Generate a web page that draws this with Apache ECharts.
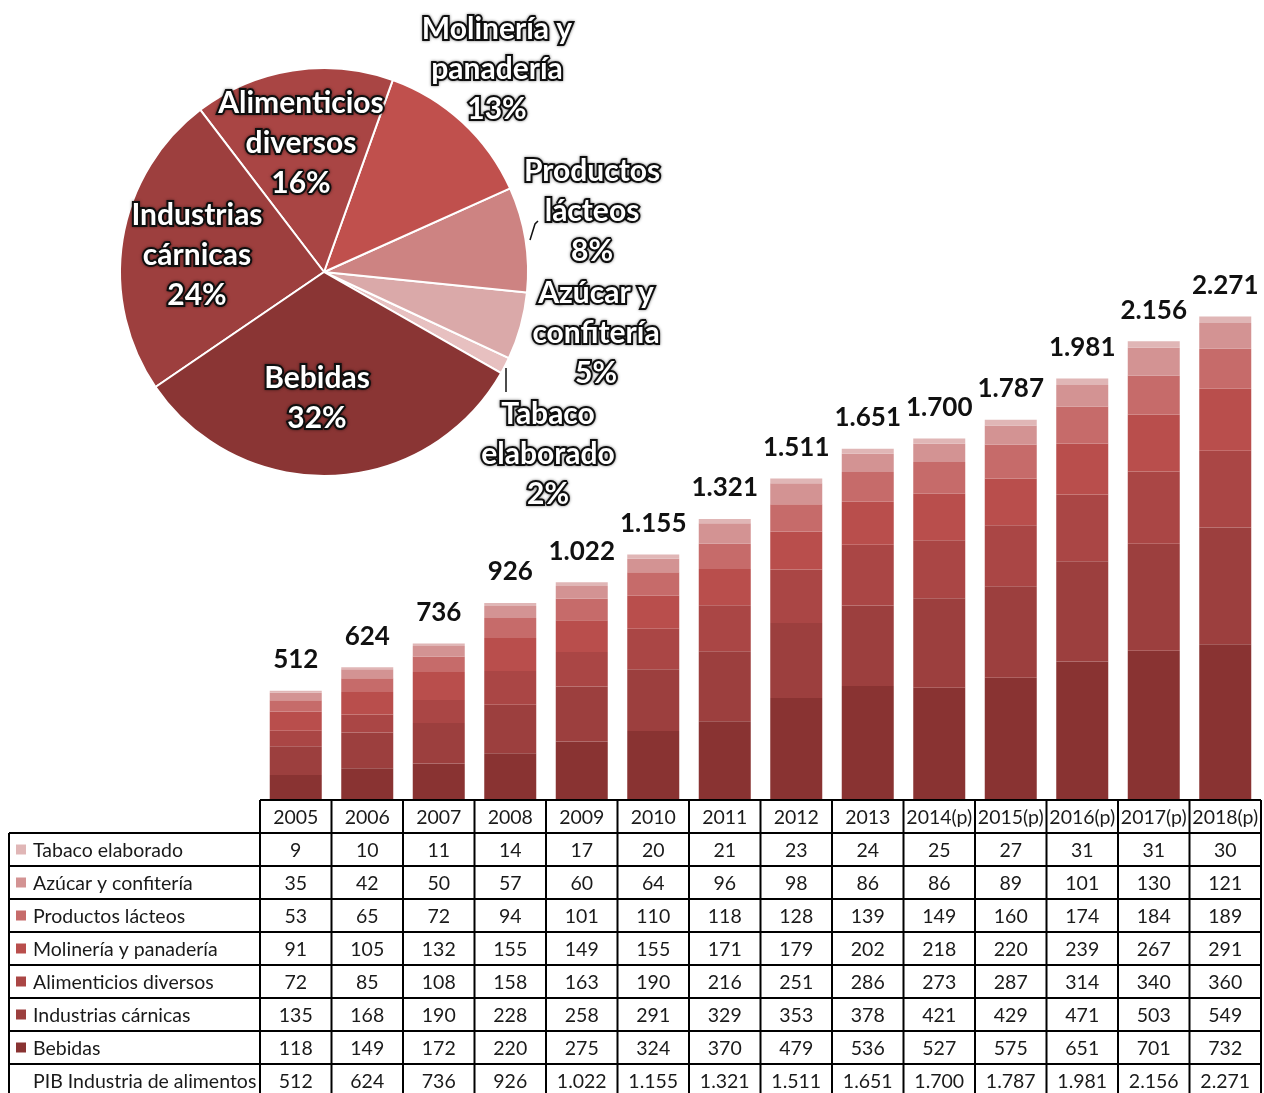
<!DOCTYPE html>
<html><head><meta charset="utf-8">
<script src="https://cdn.jsdelivr.net/npm/echarts@6/dist/echarts.min.js"></script>
<style>html,body{margin:0;padding:0;background:#fff}#c{width:1264px;height:1093px}</style>
</head><body><div id="c"></div>
<script>
// ---- data ----
const years = ['2005','2006','2007','2008','2009','2010','2011','2012','2013','2014(p)','2015(p)','2016(p)','2017(p)','2018(p)'];
const seriesNames = ['Tabaco elaborado','Azúcar y confitería','Productos lácteos','Molinería y panadería','Alimenticios diversos','Industrias cárnicas','Bebidas'];
const tabaco       = [9,10,11,14,17,20,21,23,24,25,27,31,31,30];
const azucar       = [35,42,50,57,60,64,96,98,86,86,89,101,130,121];
const lacteos      = [53,65,72,94,101,110,118,128,139,149,160,174,184,189];
const molineria    = [91,105,132,155,149,155,171,179,202,218,220,239,267,291];
const alimenticios = [72,85,108,158,163,190,216,251,286,273,287,314,340,360];
const carnicas     = [135,168,190,228,258,291,329,353,378,421,429,471,503,549];
const bebidas      = [118,149,172,220,275,324,370,479,536,527,575,651,701,732];
const totalPIB     = [512,624,736,926,1022,1155,1321,1511,1651,1700,1787,1981,2156,2271];
const totalName = 'PIB Industria de alimentos';
const pieNames = ['Tabaco\nelaborado','Azúcar y\nconfitería','Productos\nlácteos','Molinería y\npanadería','Alimenticios\ndiversos','Industrias\ncárnicas','Bebidas'];
const piePercent = ['2%','5%','8%','13%','16%','24%','32%'];

// ---- styles / layout ----
const barColors = ['#E0B6B6','#D39393','#C66B6A','#B94E4C','#AA4645','#9C3F3E','#893332'];
const pieColors = ['#E7C0C0','#DAA9A9','#CD8382','#C0504D','#A94544','#9D3F3E','#8A3534'];
const pieLabelPos = [[548,454],[596,333],[592,211],[497,69],[301,143],[197,255],[317,398]];
const pieLeaderLines = { 0: [[506,368],[506,380],[506,392]], 2: [[530,240],[535,224],[538,221]] };

const seriesValues = [tabaco, azucar, lacteos, molineria, alimenticios, carnicas, bebidas];
const fmt = n => String(n).replace(/\B(?=(\d{3})+(?!\d))/g, '.');

const W = 1264, H = 1093;
const gridLeft = 260, gridRight = 3, gridBottom = 293, gridTop = 268;
const colW = (W - gridRight - gridLeft) / years.length;
const tableTop = H - gridBottom;   // 800
const rowH = 33;
const tableLeft = 9;
const tableRight = W - gridRight;
const font = 'Lato, "Open Sans", sans-serif';

// bar series: bottom = Bebidas, top = Tabaco
const barSeries = [];
for (let i = seriesNames.length - 1; i >= 0; i--) {
  const isTop = i === 0;
  barSeries.push({
    type: 'bar', name: seriesNames[i], stack: 'total', data: seriesValues[i],
    barWidth: 52, itemStyle: { color: barColors[i] },
    label: isTop ? {
      show: true, position: 'top', distance: 18,
      formatter: p => fmt(totalPIB[p.dataIndex]),
      fontFamily: font, fontWeight: 'bold', fontSize: 26, color: '#111'
    } : { show: false }
  });
}

// pie
const last = years.length - 1;
const pieData = seriesNames.map((n, i) => ({
  name: n, value: seriesValues[i][last],
  itemStyle: { color: pieColors[i] },
  labelLine: { show: !!pieLeaderLines[i], length: 6, length2: 4, lineStyle: { color: '#111', width: 1.5 } }
}));

// table graphics
const g = [];
const line = (x1, y1, x2, y2) => g.push({ type: 'line', shape: { x1, y1, x2, y2 }, style: { stroke: '#000', lineWidth: 2 }, z: 10 });
const txt = (text, x, y, align) => g.push({ type: 'text', x, y, z: 11,
  style: { text, fill: '#1a1a1a', font: '19.5px ' + font, align, verticalAlign: 'middle', textAlign: align, textVerticalAlign: 'middle' } });

line(gridLeft, tableTop, tableRight, tableTop);
const nRows = seriesNames.length + 1;
for (let r = 0; r < nRows; r++) line(tableLeft, tableTop + rowH * (r + 1), tableRight, tableTop + rowH * (r + 1));
for (let c = 0; c <= years.length; c++) line(gridLeft + colW * c, tableTop, gridLeft + colW * c, H);
line(tableLeft, tableTop + rowH, tableLeft, H);

years.forEach((y, c) => txt(y, gridLeft + colW * (c + 0.5), tableTop + rowH / 2 + 1, 'center'));
const rows = seriesValues.concat([totalPIB]);
rows.forEach((vals, r) => {
  const cy = tableTop + rowH * (r + 1) + rowH / 2 + 1;
  if (r < seriesNames.length) {
    g.push({ type: 'rect', z: 11, shape: { x: 16, y: cy - 6, width: 10, height: 10 }, style: { fill: barColors[r] } });
    txt(seriesNames[r], 33, cy, 'left');
  } else {
    txt(totalName, 33, cy, 'left');
  }
  vals.forEach((v, c) => txt(fmt(v), gridLeft + colW * (c + 0.5), cy, 'center'));
});

const chart = echarts.init(document.getElementById('c'), null, { renderer: 'canvas' });
chart.setOption({
  animation: false,
  backgroundColor: '#fff',
  grid: { left: gridLeft, right: gridRight, top: gridTop, bottom: gridBottom },
  xAxis: { type: 'category', data: years, show: false },
  yAxis: { type: 'value', min: 0, max: 2500, show: false },
  series: barSeries.concat([{
    type: 'pie', center: [324, 272], radius: 204,
    startAngle: -29.7, clockwise: false, avoidLabelOverlap: false,
    itemStyle: { borderColor: '#fff', borderWidth: 2 },
    data: pieData,
    label: {
      show: true, position: 'outside',
      formatter: p => pieNames[p.dataIndex] + '\n' + piePercent[p.dataIndex],
      fontFamily: font, fontWeight: 'bold', fontSize: 30, lineHeight: 40,
      color: '#fff', textBorderColor: '#111', textBorderWidth: 4,
      textShadowColor: 'rgba(0,0,0,0.5)', textShadowBlur: 3, align: 'center'
    },
    labelLayout: p => {
      const o = { x: pieLabelPos[p.dataIndex][0], y: pieLabelPos[p.dataIndex][1], align: 'center', verticalAlign: 'middle' };
      if (pieLeaderLines[p.dataIndex]) o.labelLinePoints = pieLeaderLines[p.dataIndex];
      return o;
    },
    emphasis: { disabled: true }
  }]),
  graphic: g
});
</script>
</body></html>
